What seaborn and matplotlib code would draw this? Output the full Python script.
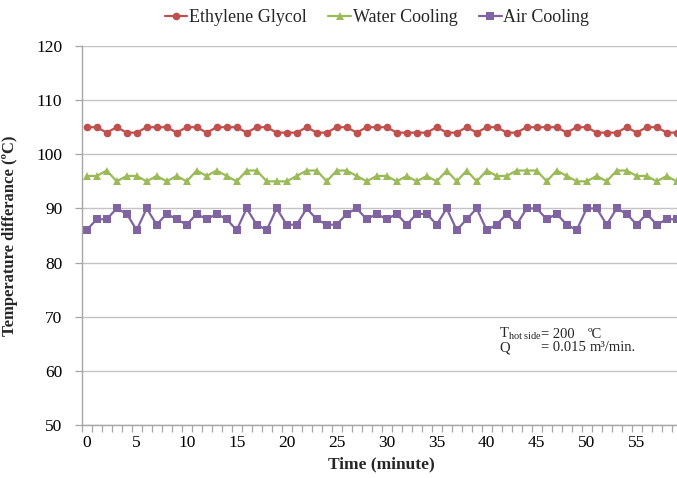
import numpy as np
import pandas as pd
import matplotlib
matplotlib.use("Agg")
import matplotlib.pyplot as plt
from matplotlib.lines import Line2D
import seaborn as sns

# Temperature difference recorded every minute for three cooling methods
minutes = list(range(60))
ethylene_glycol = [105, 105, 104, 105, 104, 104, 105, 105, 105, 104,
                   105, 105, 104, 105, 105, 105, 104, 105, 105, 104,
                   104, 104, 105, 104, 104, 105, 105, 104, 105, 105,
                   105, 104, 104, 104, 104, 105, 104, 104, 105, 104,
                   105, 105, 104, 104, 105, 105, 105, 105, 104, 105,
                   105, 104, 104, 104, 105, 104, 105, 105, 104, 104]
water_cooling = [96, 96, 97, 95, 96, 96, 95, 96, 95, 96,
                 95, 97, 96, 97, 96, 95, 97, 97, 95, 95,
                 95, 96, 97, 97, 95, 97, 97, 96, 95, 96,
                 96, 95, 96, 95, 96, 95, 97, 95, 97, 95,
                 97, 96, 96, 97, 97, 97, 95, 97, 96, 95,
                 95, 96, 95, 97, 97, 96, 96, 95, 96, 95]
air_cooling = [86, 88, 88, 90, 89, 86, 90, 87, 89, 88,
               87, 89, 88, 89, 88, 86, 90, 87, 86, 90,
               87, 87, 90, 88, 87, 87, 89, 90, 88, 89,
               88, 89, 87, 89, 89, 87, 90, 86, 88, 90,
               86, 87, 89, 87, 90, 90, 88, 89, 87, 86,
               90, 90, 87, 90, 89, 87, 89, 87, 88, 88]

series_names = ["Ethylene Glycol", "Water Cooling", "Air Cooling"]
series_colors = ["#C0504D", "#9BBB59", "#8064A2"]
series_markers = ["o", "^", "s"]
x_ticks = [0, 5, 10, 15, 20, 25, 30, 35, 40, 45, 50, 55]
y_ticks = [50, 60, 70, 80, 90, 100, 110, 120]

sns.set_theme(style="white")
plt.rcParams["font.family"] = ["Liberation Serif", "DejaVu Serif"]
plt.rcParams["mathtext.fontset"] = "custom"
plt.rcParams["mathtext.rm"] = "Liberation Serif"
plt.rcParams["mathtext.it"] = "Liberation Serif:italic"
plt.rcParams["mathtext.bf"] = "Liberation Serif:bold"

df = pd.DataFrame({
    "Minute": minutes * 3,
    "Value": ethylene_glycol + water_cooling + air_cooling,
    "Series": [n for n in series_names for _ in minutes],
})

W, H = 677, 478
fig = plt.figure(figsize=(W / 100, H / 100), dpi=100)
ax = fig.add_axes([81.7 / W, 53 / H, 600 / W, 379 / H])

sns.lineplot(data=df, x="Minute", y="Value", hue="Series", style="Series",
             hue_order=series_names, style_order=series_names,
             palette=series_colors, markers=series_markers, dashes=False,
             linewidth=1.6, markersize=5.5, markeredgewidth=0,
             ax=ax, legend=False)

axis_gray = "#a6a6a6"
ax.set_xlim(-0.5, 59.5)
ax.set_ylim(50, 120)
ax.set_yticks(y_ticks)
ax.set_xticks(x_ticks)
ax.set_xticks(np.arange(-0.5, 60, 1), minor=True)
ax.tick_params(axis="x", which="major", length=0, pad=7, labelsize=12.5,
               labelcolor="black")
ax.tick_params(axis="x", which="minor", length=5, width=0.9,
               direction="out", color=axis_gray, bottom=True)
ax.tick_params(axis="y", which="major", length=5, width=0.9,
               direction="out", color=axis_gray, pad=9, labelsize=12.5,
               labelcolor="black", left=True)

ax.grid(axis="y", color="#c4c4c4", linewidth=1.0)
ax.grid(axis="x", visible=False)
ax.set_axisbelow(True)
for side in ["top", "right"]:
    ax.spines[side].set_visible(False)
for side in ["left", "bottom"]:
    ax.spines[side].set_color(axis_gray)
    ax.spines[side].set_linewidth(1.0)

ax.set_xlabel("Time (minute)", fontsize=12.5, fontweight="bold", labelpad=4)
ax.set_ylabel("Temperature differance (ºC)", fontsize=12, fontweight="bold")
ax.yaxis.set_label_coords(-(81.7 - 18) / 600, 0.5)

handles = [Line2D([], [], color=c, marker=m, linewidth=1.6, markersize=5.5,
                  markeredgewidth=0)
           for c, m in zip(series_colors, series_markers)]
fig.legend(handles, series_names, loc="center",
           bbox_to_anchor=(377 / W, 1 - 18 / H), ncol=3, frameon=False,
           fontsize=13, handlelength=1.25, handletextpad=0.1,
           columnspacing=1.2)

# Test conditions
fs = 10.5
fig.text(499 / W, 1 - 338 / H, r"T$_{\mathrm{hot\ side}}$", fontsize=fs,
         va="baseline")
fig.text(541 / W, 1 - 338 / H, "= 200", fontsize=fs, va="baseline")
fig.text(588 / W, 1 - 338 / H, "ºC", fontsize=fs, va="baseline")
fig.text(499 / W, 1 - 351 / H, "Q", fontsize=fs, va="baseline")
fig.text(541 / W, 1 - 351 / H, "= 0.015", fontsize=fs, va="baseline")
fig.text(590 / W, 1 - 351 / H, "m³/min.", fontsize=fs, va="baseline")

fig.savefig("out.png", dpi=100)
